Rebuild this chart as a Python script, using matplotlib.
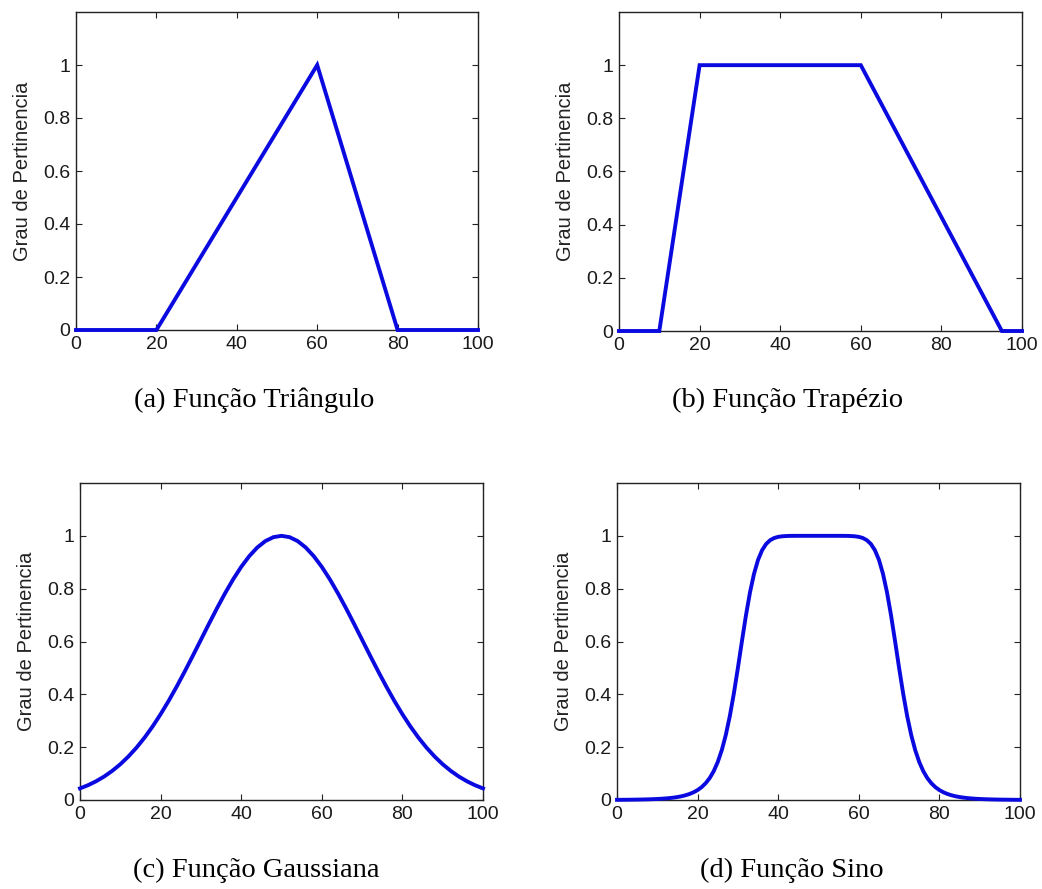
import matplotlib
matplotlib.use("Agg")
import matplotlib.pyplot as plt

# ---- data ----
tri_x = [0, 20, 60, 80, 100]
tri_y = [0, 0, 1, 0, 0]

trap_x = [0, 10, 20, 60, 95, 100]
trap_y = [0, 0, 1, 1, 0, 0]

gauss_x = [0, 2, 4, 6, 8, 10, 12, 14, 16, 18, 20, 22, 24, 26, 28, 30, 32, 34, 36, 38, 40, 42, 44, 46, 48, 50,
           52, 54, 56, 58, 60, 62, 64, 66, 68, 70, 72, 74, 76, 78, 80, 82, 84, 86, 88, 90, 92, 94, 96, 98, 100]
gauss_y = [0.0439, 0.0561, 0.0710, 0.0889, 0.1103, 0.1353, 0.1645, 0.1979, 0.2357, 0.2780, 0.3247,
           0.3753, 0.4296, 0.4868, 0.5461, 0.6065, 0.6670, 0.7261, 0.7827, 0.8353, 0.8825,
           0.9231, 0.9560, 0.9802, 0.9950, 1.0000,
           0.9950, 0.9802, 0.9560, 0.9231, 0.8825, 0.8353, 0.7827, 0.7261, 0.6670, 0.6065,
           0.5461, 0.4868, 0.4296, 0.3753, 0.3247, 0.2780, 0.2357, 0.1979, 0.1645, 0.1353,
           0.1103, 0.0889, 0.0710, 0.0561, 0.0439]

bell_x = list(range(0, 101))
bell_y = [0.0007, 0.0008, 0.0009, 0.0011, 0.0013, 0.0015, 0.0018, 0.0022, 0.0026, 0.0032,
          0.0039, 0.0047, 0.0059, 0.0072, 0.0090, 0.0112, 0.0141, 0.0179, 0.0228, 0.0292,
          0.0376, 0.0487, 0.0635, 0.0831, 0.1092, 0.1437, 0.1887, 0.2464, 0.3181, 0.4036,
          0.5000, 0.6012, 0.6991, 0.7859, 0.8563, 0.9090, 0.9455, 0.9691, 0.9835, 0.9917,
          0.9961, 0.9983, 0.9993, 0.9998, 0.9999, 1.0000, 1.0000, 1.0000, 1.0000, 1.0000,
          1.0000,
          1.0000, 1.0000, 1.0000, 1.0000, 1.0000, 0.9999, 0.9998, 0.9993, 0.9983, 0.9961,
          0.9917, 0.9835, 0.9691, 0.9455, 0.9090, 0.8563, 0.7859, 0.6991, 0.6012, 0.5000,
          0.4036, 0.3181, 0.2464, 0.1887, 0.1437, 0.1092, 0.0831, 0.0635, 0.0487, 0.0376,
          0.0292, 0.0228, 0.0179, 0.0141, 0.0112, 0.0090, 0.0072, 0.0059, 0.0047, 0.0039,
          0.0032, 0.0026, 0.0022, 0.0018, 0.0015, 0.0013, 0.0011, 0.0009, 0.0008, 0.0007]

captions = ["(a) Função Triângulo", "(b) Função Trapézio",
            "(c) Função Gaussiana", "(d) Função Sino"]
ylabel_text = "Grau de Pertinencia"
xticks = [0, 20, 40, 60, 80, 100]
yticks = [0, 0.2, 0.4, 0.6, 0.8, 1]
ytick_labels = ["0", "0.2", "0.4", "0.6", "0.8", "1"]

series = [(tri_x, tri_y), (trap_x, trap_y), (gauss_x, gauss_y), (bell_x, bell_y)]

W, H = 1042, 889
fig = plt.figure(figsize=(W / 100, H / 100), dpi=100)

# axes boxes in pixels: left, right, top, bottom
boxes = [(76, 478, 12, 330), (619, 1022, 12, 331), (80, 483, 483, 800), (617, 1020, 483, 800)]
caption_pos = [(254, 400), (788, 400), (256, 870), (792, 870)]

for i, ((xs, ys), (l, r, t, b)) in enumerate(zip(series, boxes)):
    ax = fig.add_axes([l / W, 1 - b / H, (r - l) / W, (b - t) / H])
    ax.plot(xs, ys, color="#0a0ae0", linewidth=2.8, solid_joinstyle="miter", clip_on=False, zorder=3)
    ax.set_xlim(0, 100)
    ax.set_ylim(0, 1.2)
    ax.set_xticks(xticks)
    ax.set_xticklabels([str(v) for v in xticks])
    ax.set_yticks(yticks)
    ax.set_yticklabels(ytick_labels)
    ax.tick_params(direction="in", length=4, width=0.8, top=True, right=True,
                   labelsize=14, colors="#222222", pad=4)
    for lab in ax.get_xticklabels() + ax.get_yticklabels():
        lab.set_fontfamily("Liberation Sans")
        lab.set_color("#1a1a1a")
    for sp in ax.spines.values():
        sp.set_linewidth(1.0)
        sp.set_color("#222222")
    ax.set_ylabel(ylabel_text, fontsize=14.5, family="Liberation Sans", color="#222222", labelpad=8)
    cx, cy = caption_pos[i]
    fig.text(cx / W, 1 - cy / H, captions[i], ha="center", va="center",
             fontsize=20.5, family="Liberation Serif", color="black")

fig.savefig("out.png", dpi=100, facecolor="white")
